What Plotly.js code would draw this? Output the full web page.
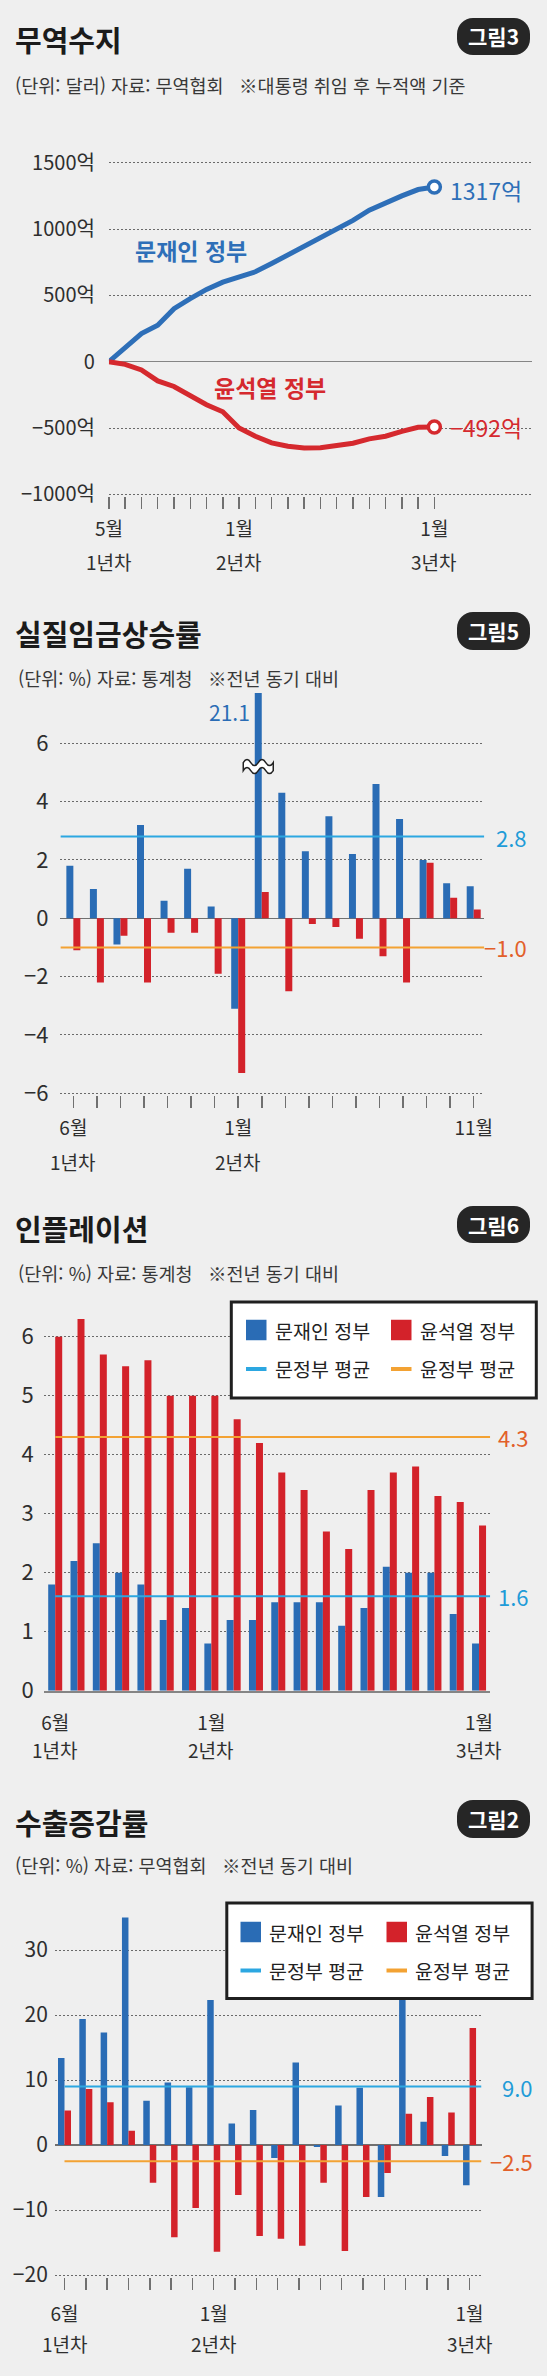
<!DOCTYPE html>
<html lang="ko">
<head>
<meta charset="utf-8">
<title>무역수지 · 실질임금상승률 · 인플레이션 · 수출증감률</title>
<script src="https://cdn.plot.ly/plotly-3.0.1.min.js"></script>
<style>
  html, body { margin: 0; padding: 0; background: #efefef; }
  #chart { width: 547px; height: 2376px; }
</style>
</head>
<body>
<div id="chart"></div>
<script>
// ---------- data ----------
const seriesNames = ['문재인 정부', '윤석열 정부'];
const avgNames = ['문정부 평균', '윤정부 평균'];

// 무역수지: 대통령 취임 후 누적액 (억 달러), 1년차 5월 ~ 3년차 1월
const tradeMonths = ['5월','6월','7월','8월','9월','10월','11월','12월','1월','2월','3월','4월','5월','6월','7월','8월','9월','10월','11월','12월','1월'];
const tradeMoon = [0, 112, 212, 275, 400, 475, 545, 600, 640, 678, 740, 805, 865, 928, 995, 1065, 1142, 1200, 1250, 1298, 1317];
const tradeYoon = [0, -20, -62, -145, -187, -258, -325, -378, -500, -562, -612, -638, -650, -648, -632, -615, -582, -562, -525, -495, -492];
const tradeYTicks = [-1000, -500, 0, 500, 1000, 1500];
const tradeLabelIdx = [0, 8, 20];
const tradeLabelYear = ['1년차', '2년차', '3년차'];

// 실질임금상승률 (%), 1년차 6월 ~ 2년차 11월
const wageMonths = ['6월','7월','8월','9월','10월','11월','12월','1월','2월','3월','4월','5월','6월','7월','8월','9월','10월','11월'];
const wageMoon = [1.8, 1.0, -0.9, 3.2, 0.6, 1.7, 0.4, -3.1, 21.1, 4.3, 2.3, 3.5, 2.2, 4.6, 3.4, 2.0, 1.2, 1.1];
const wageYoon = [-1.1, -2.2, -0.6, -2.2, -0.5, -0.5, -1.9, -5.3, 0.9, -2.5, -0.2, -0.3, -0.7, -1.3, -2.2, 1.9, 0.7, 0.3];
const wageMoonAvg = 2.8;
const wageYoonAvg = -1.0;
const wageLabelIdx = [0, 7, 17];
const wageLabelYear = ['1년차', '2년차', ''];

// 인플레이션 (%), 1년차 6월 ~ 3년차 1월
const cpiMonths = ['6월','7월','8월','9월','10월','11월','12월','1월','2월','3월','4월','5월','6월','7월','8월','9월','10월','11월','12월','1월'];
const cpiMoon = [1.8, 2.2, 2.5, 2.0, 1.8, 1.2, 1.4, 0.8, 1.2, 1.2, 1.5, 1.5, 1.5, 1.1, 1.4, 2.1, 2.0, 2.0, 1.3, 0.8];
const cpiYoon = [6.0, 6.3, 5.7, 5.5, 5.6, 5.0, 5.0, 5.0, 4.6, 4.2, 3.7, 3.4, 2.7, 2.4, 3.4, 3.7, 3.8, 3.3, 3.2, 2.8];
const cpiMoonAvg = 1.6;
const cpiYoonAvg = 4.3;
const cpiLabelIdx = [0, 7, 19];
const cpiLabelYear = ['1년차', '2년차', '3년차'];

// 수출증감률 (%), 1년차 6월 ~ 3년차 1월
const expMonths = ['6월','7월','8월','9월','10월','11월','12월','1월','2월','3월','4월','5월','6월','7월','8월','9월','10월','11월','12월','1월'];
const expMoon = [13.4, 19.4, 17.3, 35.0, 6.8, 9.6, 8.9, 22.3, 3.3, 5.4, -2.0, 12.7, -0.3, 6.1, 8.8, -8.0, 22.7, 3.6, -1.7, -6.2];
const expYoon = [5.3, 8.6, 6.6, 2.2, -5.8, -14.2, -9.7, -16.4, -7.7, -14.0, -14.4, -15.5, -5.8, -16.3, -8.0, -4.3, 4.8, 7.4, 5.0, 18.0];
const expMoonAvg = 9.0;
const expYoonAvg = -2.5;
const expLabelIdx = [0, 7, 19];
const expLabelYear = ['1년차', '2년차', '3년차'];

// ---------- page geometry helpers ----------
const W = 547, H = 2376;
const fx = p => p / W;          // page px -> paper x
const fy = p => 1 - p / H;      // page px -> paper y
const FONT = '"Noto Sans CJK KR", "Noto Sans", sans-serif';

const COL = {
  bg: '#efefef', ink: '#1b1b1b', sub: '#383838', tick: '#2e2e2e',
  grid: '#6a6a6a', base: '#858585', tickMark: '#707070',
  moon: '#2a6cb5', yoon: '#d3222a',
  moonLine: '#2e6fb8', yoonLine: '#d5292e',
  avgMoon: '#2ca7e1', avgYoon: '#f3a233',
  avgMoonText: '#1f9cd8', avgYoonText: '#e2602a',
  badge: '#262626', legendLine: '#1f1f1f'
};

const minus = s => String(s).replace('-', '\u2212');
const fmt1 = v => minus(v.toFixed(1));
const idx = arr => arr.map((_, i) => i);
const tickText = (months, at) => months.map((m, i) => at.includes(i) ? m : '');

// plot areas in page px
const box = {
  trade: { l: 108.9, r: 532,   t: 149.5,  b: 496.3 },
  wage:  { l: 60.4,  r: 484.3, t: 693,    b: 1095.1 },
  cpi:   { l: 43.6,  r: 490.2, t: 1307.2, b: 1690.7 },
  exp:   { l: 54.8,  r: 481.5, t: 1911,   b: 2277 }
};
const xr = { trade: [0, 26], wage: [-0.55, 17.45], cpi: [-0.52, 19.5], exp: [-0.455, 19.56] };
const yr = { trade: [-1015, 1600], wage: [-6.06, 7.72], cpi: [0, 6.5], exp: [-20.3, 36] };
const barW = { wage: 0.297, cpi: 0.314, exp: 0.305 };   // one bar, in months

// ---------- traces ----------
const traces = [];
traces.push({ type: 'scatter', mode: 'lines', xaxis: 'x', yaxis: 'y', name: seriesNames[0],
  x: idx(tradeMoon), y: tradeMoon, line: { color: COL.moonLine, width: 5 } });
traces.push({ type: 'scatter', mode: 'lines', xaxis: 'x', yaxis: 'y', name: seriesNames[1],
  x: idx(tradeYoon), y: tradeYoon, line: { color: COL.yoonLine, width: 5 } });
const lastT = tradeMoon.length - 1;
traces.push({ type: 'scatter', mode: 'markers', xaxis: 'x', yaxis: 'y', cliponaxis: false,
  x: [lastT, lastT], y: [tradeMoon[lastT], tradeYoon[lastT]],
  marker: { size: 12, color: '#ffffff', line: { color: [COL.moonLine, COL.yoonLine], width: 3.5 } } });

function barPair(xa, ya, moon, yoon, w) {
  traces.push({ type: 'bar', xaxis: xa, yaxis: ya, name: seriesNames[0], x: idx(moon), y: moon,
    width: w, offset: -w, marker: { color: COL.moon, line: { width: 0 } } });
  traces.push({ type: 'bar', xaxis: xa, yaxis: ya, name: seriesNames[1], x: idx(yoon), y: yoon,
    width: w, offset: 0, marker: { color: COL.yoon, line: { width: 0 } } });
}
barPair('x2', 'y2', wageMoon, wageYoon, barW.wage);
barPair('x3', 'y3', cpiMoon, cpiYoon, barW.cpi);
barPair('x4', 'y4', expMoon, expYoon, barW.exp);

// ---------- axes ----------
const gridY = { showgrid: true, gridcolor: COL.grid, griddash: '2px,2px', gridwidth: 1, ticks: '', showline: false, fixedrange: true };
const baseX = { showgrid: false, zeroline: false, showline: false, tickmode: 'array', fixedrange: true,
  ticks: 'outside', ticklen: 12, tickwidth: 1.5, tickcolor: COL.tickMark,
  tickfont: { size: 19, color: COL.tick } };

const layout = {
  width: W, height: H,
  margin: { l: 0, r: 0, t: 0, b: 0, pad: 0 },
  paper_bgcolor: COL.bg, plot_bgcolor: COL.bg,
  font: { family: FONT, color: COL.tick },
  showlegend: false,
  barmode: 'overlay',
  xaxis: Object.assign({}, baseX, { domain: [fx(box.trade.l), fx(box.trade.r)], anchor: 'y', range: xr.trade,
    tickvals: idx(tradeMonths), ticktext: tickText(tradeMonths, tradeLabelIdx), ticklabelstandoff: 4 }),
  yaxis: Object.assign({}, gridY, { domain: [fy(box.trade.b), fy(box.trade.t)], anchor: 'x', range: yr.trade,
    tickmode: 'array', tickvals: tradeYTicks, ticktext: tradeYTicks.map(v => v === 0 ? '0' : minus(v) + '억'),
    tickfont: { size: 20, color: COL.tick }, ticklabelstandoff: 13,
    zeroline: true, zerolinecolor: COL.base, zerolinewidth: 1.5 }),

  xaxis2: Object.assign({}, baseX, { domain: [fx(box.wage.l), fx(box.wage.r)], anchor: 'y2', range: xr.wage,
    tickvals: idx(wageMonths), ticktext: tickText(wageMonths, wageLabelIdx), ticklabelstandoff: 4 }),
  yaxis2: Object.assign({}, gridY, { domain: [fy(box.wage.b), fy(box.wage.t)], anchor: 'x2', range: yr.wage,
    tickmode: 'linear', tick0: 0, dtick: 2, tickfont: { size: 22, color: COL.tick }, ticklabelstandoff: 11,
    zeroline: true, zerolinecolor: '#707070', zerolinewidth: 1.5 }),

  xaxis3: Object.assign({}, baseX, { domain: [fx(box.cpi.l), fx(box.cpi.r)], anchor: 'y3', range: xr.cpi,
    tickvals: idx(cpiMonths), ticktext: tickText(cpiMonths, cpiLabelIdx), ticks: '',
    showline: true, linecolor: COL.base, linewidth: 2, ticklabelstandoff: 14 }),
  yaxis3: Object.assign({}, gridY, { domain: [fy(box.cpi.b), fy(box.cpi.t)], anchor: 'x3', range: yr.cpi,
    tickmode: 'linear', tick0: 0, dtick: 1, tickfont: { size: 22, color: COL.tick }, ticklabelstandoff: 9,
    zeroline: false }),

  xaxis4: Object.assign({}, baseX, { domain: [fx(box.exp.l), fx(box.exp.r)], anchor: 'y4', range: xr.exp,
    tickvals: idx(expMonths), ticktext: tickText(expMonths, expLabelIdx), ticklabelstandoff: 8 }),
  yaxis4: Object.assign({}, gridY, { domain: [fy(box.exp.b), fy(box.exp.t)], anchor: 'x4', range: yr.exp,
    tickmode: 'linear', tick0: 0, dtick: 10, tickfont: { size: 21, color: COL.tick }, ticklabelstandoff: 6,
    zeroline: true, zerolinecolor: '#707070', zerolinewidth: 1.5 }),
  shapes: [],
  annotations: []
};
const S = layout.shapes, A = layout.annotations;

// ---------- headers ----------
function pillPath(x0, y0, x1, y1, r) {
  const k = 0.5523 * r;
  const P = (x, y) => fx(x) + ',' + fy(y);
  return 'M' + P(x0 + r, y0) + ' L' + P(x1 - r, y0) +
    ' C' + P(x1 - r + k, y0) + ' ' + P(x1, y0 + r - k) + ' ' + P(x1, y0 + r) +
    ' L' + P(x1, y1 - r) +
    ' C' + P(x1, y1 - r + k) + ' ' + P(x1 - r + k, y1) + ' ' + P(x1 - r, y1) +
    ' L' + P(x0 + r, y1) +
    ' C' + P(x0 + r - k, y1) + ' ' + P(x0, y1 - r + k) + ' ' + P(x0, y1 - r) +
    ' L' + P(x0, y0 + r) +
    ' C' + P(x0, y0 + r - k) + ' ' + P(x0 + r - k, y0) + ' ' + P(x0 + r, y0) + ' Z';
}
function header(title, badge, sub, titleY, badgeY0, badgeY1, subX, subY) {
  A.push({ xref: 'paper', yref: 'paper', x: fx(13), y: fy(titleY), xanchor: 'left', yanchor: 'middle',
    text: '<b>' + title + '</b>', showarrow: false, font: { size: 29, color: COL.ink } });
  S.push({ type: 'path', xref: 'paper', yref: 'paper', path: pillPath(457, badgeY0, 530, badgeY1, 16),
    fillcolor: COL.badge, line: { width: 0 }, layer: 'above' });
  A.push({ xref: 'paper', yref: 'paper', x: fx(493.5), y: fy((badgeY0 + badgeY1) / 2), xanchor: 'center', yanchor: 'middle',
    text: '<b>' + badge + '</b>', showarrow: false, font: { size: 21, color: '#ffffff' } });
  A.push({ xref: 'paper', yref: 'paper', x: fx(subX), y: fy(subY), xanchor: 'left', yanchor: 'middle',
    text: sub, showarrow: false, font: { size: 18.5, color: COL.sub } });
}
const gap = '\u00a0\u00a0\u00a0';
header('무역수지', '그림3', '(단위: 달러) 자료: 무역협회' + gap + '※대통령 취임 후 누적액 기준', 39, 18, 55, 13, 85);
header('실질임금상승률', '그림5', '(단위: %) 자료: 통계청' + gap + '※전년 동기 대비', 633, 612, 650, 16, 677.5);
header('인플레이션', '그림6', '(단위: %) 자료: 통계청' + gap + '※전년 동기 대비', 1227.5, 1206, 1243, 16, 1272.5);
header('수출증감률', '그림2', '(단위: %) 자료: 무역협회' + gap + '※전년 동기 대비', 1821.5, 1800, 1838, 13, 1865);

// ---------- year row under month ticks ----------
function yearRow(xa, at, years, y) {
  at.forEach((i, k) => {
    if (!years[k]) return;
    A.push({ xref: xa, yref: 'paper', x: i, y: fy(y), xanchor: 'center', yanchor: 'middle',
      text: years[k], showarrow: false, font: { size: 19, color: COL.tick } });
  });
}
yearRow('x', tradeLabelIdx, tradeLabelYear, 561);
yearRow('x2', wageLabelIdx, wageLabelYear, 1161);
yearRow('x3', cpiLabelIdx, cpiLabelYear, 1750);
yearRow('x4', expLabelIdx, expLabelYear, 2343);

// ---------- trade balance labels ----------
A.push({ xref: 'paper', yref: 'paper', x: fx(191), y: fy(250), xanchor: 'center', yanchor: 'middle',
  text: '<b>' + seriesNames[0] + '</b>', showarrow: false, font: { size: 23, color: COL.moonLine } });
A.push({ xref: 'paper', yref: 'paper', x: fx(270), y: fy(387.5), xanchor: 'center', yanchor: 'middle',
  text: '<b>' + seriesNames[1] + '</b>', showarrow: false, font: { size: 23, color: COL.yoonLine } });
[[tradeMoon, COL.moonLine, -3], [tradeYoon, COL.yoonLine, 0]].forEach(([s, c, dy]) => {
  const v = s[s.length - 1];
  A.push({ xref: 'x', yref: 'y', x: s.length - 1, y: v, xanchor: 'left', yanchor: 'middle', xshift: 14, yshift: dy,
    text: minus(Math.round(v)) + '억', showarrow: false, font: { size: 23, color: c } });
});

// ---------- average lines and labels ----------
function avgLine(xa, ya, x0, x1, v, color, textColor, labelRight) {
  S.push({ type: 'line', xref: xa, yref: ya, x0: x0, x1: x1, y0: v, y1: v,
    line: { color: color, width: 2 }, layer: 'above' });
  A.push({ xref: 'paper', yref: ya, x: fx(labelRight), y: v, xanchor: 'right', yanchor: 'middle',
    text: fmt1(v), showarrow: false, font: { size: 22, color: textColor } });
}
avgLine('x2', 'y2', xr.wage[0], xr.wage[1], wageMoonAvg, COL.avgMoon, COL.avgMoonText, 529);
avgLine('x2', 'y2', xr.wage[0], xr.wage[1], wageYoonAvg, COL.avgYoon, COL.avgYoonText, 529);
avgLine('x3', 'y3', 0, xr.cpi[1], cpiYoonAvg, COL.avgYoon, COL.avgYoonText, 531);
avgLine('x3', 'y3', 0, xr.cpi[1], cpiMoonAvg, COL.avgMoon, COL.avgMoonText, 531);
avgLine('x4', 'y4', 0, xr.exp[1], expMoonAvg, COL.avgMoon, COL.avgMoonText, 535);
avgLine('x4', 'y4', 0, xr.exp[1], expYoonAvg, COL.avgYoon, COL.avgYoonText, 535);

// ---------- broken bar in the wage chart (wavy cut band) ----------
const peak = Math.max(...wageMoon);
const peakIdx = wageMoon.indexOf(peak);
S.push({ type: 'path', xref: 'x2', yref: 'y2', xsizemode: 'pixel', ysizemode: 'pixel',
  xanchor: peakIdx - barW.wage / 2, yanchor: 5.2,
  path: 'M-15,4 Q-11.25,10 -7.5,4 Q-3.75,-2 0,4 Q3.75,10 7.5,4 Q11.25,-2 15,4 ' +
        'L15,-4 Q11.25,-10 7.5,-4 Q3.75,2 0,-4 Q-3.75,-10 -7.5,-4 Q-11.25,2 -15,-4 Z',
  fillcolor: '#ffffff', line: { color: '#222222', width: 1.5 }, layer: 'above' });
A.push({ xref: 'x2', yref: 'paper', x: peakIdx - barW.wage, y: fy(711.5), xanchor: 'right', yanchor: 'middle',
  xshift: -3, text: peak.toFixed(1), showarrow: false, font: { size: 21, color: COL.moon } });

// ---------- legends ----------
function legendBox(b, sq1, sq2, row1, row2) {
  S.push({ type: 'rect', xref: 'paper', yref: 'paper', x0: fx(b[0]), x1: fx(b[2]), y0: fy(b[3]), y1: fy(b[1]),
    fillcolor: '#ffffff', line: { color: COL.legendLine, width: 3 }, layer: 'above' });
  const sz = 20.5;
  [[sq1, COL.moon, COL.avgMoon, 0], [sq2, COL.yoon, COL.avgYoon, 1]].forEach(([x, c, lc, k]) => {
    S.push({ type: 'rect', xref: 'paper', yref: 'paper', x0: fx(x), x1: fx(x + sz),
      y0: fy(row1 + sz / 2), y1: fy(row1 - sz / 2), fillcolor: c, line: { width: 0 }, layer: 'above' });
    S.push({ type: 'line', xref: 'paper', yref: 'paper', x0: fx(x), x1: fx(x + sz), y0: fy(row2), y1: fy(row2),
      line: { color: lc, width: 4 }, layer: 'above' });
    A.push({ xref: 'paper', yref: 'paper', x: fx(x + sz + 6), y: fy(row1), xanchor: 'left', yanchor: 'middle',
      text: seriesNames[k], showarrow: false, font: { size: 19.5, color: '#222222' } });
    A.push({ xref: 'paper', yref: 'paper', x: fx(x + sz + 6), y: fy(row2), xanchor: 'left', yanchor: 'middle',
      text: avgNames[k], showarrow: false, font: { size: 19.5, color: '#222222' } });
  });
}
legendBox([231.3, 1302, 536.3, 1398], 246, 391, 1330, 1369);
legendBox([226.8, 1903, 532.1, 1998.5], 240.5, 386.5, 1932, 1970.5);

Plotly.newPlot('chart', traces, layout, { staticPlot: true, displayModeBar: false });
</script>
</body>
</html>
